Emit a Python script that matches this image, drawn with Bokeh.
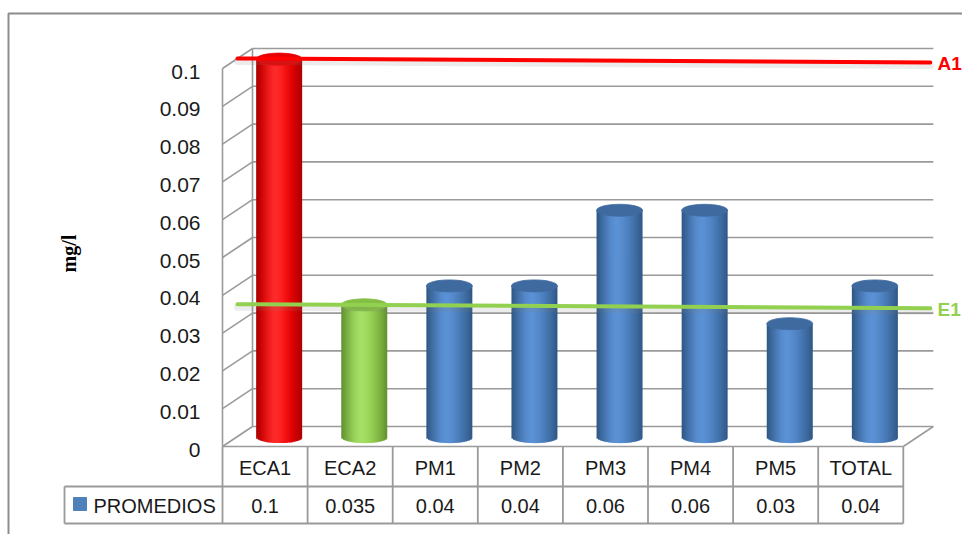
import numpy as np
from bokeh.plotting import figure
from bokeh.models import Range1d
from bokeh.core.properties import value
from bokeh.embed import file_html
from bokeh.resources import INLINE

# ---- data -------------------------------------------------------------
categories = ["ECA1", "ECA2", "PM1", "PM2", "PM3", "PM4", "PM5", "TOTAL"]
promedios = [0.1, 0.035, 0.04, 0.04, 0.06, 0.06, 0.03, 0.04]
value_labels = ["0.1", "0.035", "0.04", "0.04", "0.06", "0.06", "0.03", "0.04"]
series_name = "PROMEDIOS"
y_ticks = [0.0, 0.01, 0.02, 0.03, 0.04, 0.05, 0.06, 0.07, 0.08, 0.09, 0.1]
y_tick_labels = ["0", "0.01", "0.02", "0.03", "0.04", "0.05", "0.06",
                 "0.07", "0.08", "0.09", "0.1"]
y_title = "mg/l"
ref_names = ["A1", "E1"]
ref_values = [0.1, 0.035]
ref_colors = ["#ff0000", "#92d050"]

# ---- styling ----------------------------------------------------------
W, H = 962, 534
COL_PX = 85.1          # pixels per category column
UNIT_PX = 3780.0       # pixels per 1.0 mg/l
X0_PX, Y0_PX = 222, 446
DX = 30 / COL_PX       # depth offset of the back wall (x)
DY = 20 / UNIT_PX      # depth offset of the back wall (y)
GRID = "#9a9a9a"
TEXT = "#1a1a1a"
FONT = value("Liberation Sans")

# cylinder palettes: (edge, mid, highlight, top)
PAL = {
    "red":   ("#a80000", "#f20000", "#ff2a2a", "#e60000"),
    "green": ("#5f8f30", "#8fcb4c", "#a6e066", "#84bf45"),
    "blue":  ("#2f5684", "#4a7dba", "#5b92d6", "#3f6a9f"),
}
bar_palette = ["red", "green"] + ["blue"] * 6


def px_x(px):
    return (px - X0_PX) / COL_PX


def px_y(py):
    return (Y0_PX - py) / UNIT_PX


p = figure(width=W, height=H, output_backend="svg", toolbar_location=None,
           x_range=Range1d(px_x(0), px_x(W)), y_range=Range1d(px_y(H), px_y(0)),
           x_axis_location=None, y_axis_location=None, min_border=0,
           background_fill_color="white", border_fill_color="white")
p.outline_line_color = None
p.grid.visible = False

n = len(categories)

# outer chart border
p.line([px_x(8), px_x(8), px_x(W + 20)], [px_y(H + 20), px_y(13), px_y(13)],
       line_color="#8c8c8c", line_width=2)

# back wall grid lines, side wall diagonals
gx, gy = [], []
for t in y_ticks:
    gx.append([DX, n + DX]); gy.append([t + DY, t + DY])
    gx.append([0, DX]); gy.append([t, t + DY])
gx.append([0, 0]); gy.append([0, y_ticks[-1]])
gx.append([DX, DX]); gy.append([DY, y_ticks[-1] + DY])
gx.append([0, n]); gy.append([0, 0])
gx.append([n, n + DX]); gy.append([0, DY])
p.multi_line(gx, gy, line_color=GRID, line_width=1.6)

# y tick labels
p.text(x=[px_x(200)] * len(y_ticks), y=y_ticks, text=y_tick_labels,
       text_align="right", text_baseline="middle", text_font=FONT,
       text_font_size="21px", text_color=TEXT, y_offset=3)

# axis title
p.text(x=[px_x(68)], y=[px_y(253)], text=[y_title], angle=np.pi / 2,
       text_align="center", text_baseline="middle",
       text_font=value("Liberation Serif"), text_font_style="bold",
       text_font_size="20px", text_color="#000000")


# ---- cylinders --------------------------------------------------------
def hex2rgb(h):
    h = h.lstrip("#")
    return np.array([int(h[i:i + 2], 16) for i in (0, 2, 4)], float)


def rgb2hex(c):
    c = np.clip(np.round(c), 0, 255).astype(int)
    return "#%02x%02x%02x" % tuple(c)


R = 23 / COL_PX        # cylinder radius (x)
HY = 6 / UNIT_PX       # half height of end ellipses
DEPTH = 0.47           # cylinder position inside the depth
NS = 28
edges = np.linspace(-1, 1, NS + 1)
overlap = 0.6 * (edges[1] - edges[0])

ql, qr, qb, qt, qc = [], [], [], [], []
ex, ey, ec = [], [], []
for i, v in enumerate(promedios):
    pal = PAL[bar_palette[i]]
    edge, mid, hi = hex2rgb(pal[0]), hex2rgb(pal[1]), hex2rgb(pal[2])
    top = pal[3]
    xc = i + 0.5 + DX * DEPTH
    yb = DY * DEPTH
    yt = v + DY * DEPTH
    for k in range(NS):
        u0, u1 = edges[k], edges[k + 1]
        uc = 0.5 * (u0 + u1)
        # light falls from the upper left: highlight left of centre
        s = np.exp(-((uc + 0.2) / 0.55) ** 2)
        d = abs(uc) ** 2.2
        col = mid + (hi - mid) * s
        col = col + (edge - col) * d
        ql.append(xc + R * u0)
        qr.append(xc + R * min(1.0, u1 + overlap))
        qb.append(yb - HY * np.sqrt(max(0.0, 1 - uc ** 2)))
        qt.append(yt)
        qc.append(rgb2hex(col))
    ex.append(xc); ey.append(yt); ec.append(top)

p.quad(left=ql, right=qr, bottom=qb, top=qt, fill_color=qc, line_color=None)
p.ellipse(x=ex, y=ey, width=2 * R, height=2 * HY, fill_color=ec,
          line_color=ec, line_width=0.8)

# ---- reference lines --------------------------------------------------
for name, v, c in zip(ref_names, ref_values, ref_colors):
    xs = [DX * 0.5, n + DX * 0.9]
    ys = [v + DY * 0.5, v + DY * 0.3]
    p.line(xs, [y - 3 / UNIT_PX for y in ys], line_color="#808080",
           line_alpha=0.15, line_width=7, line_cap="round")
    p.line(xs, ys, line_color=c, line_width=4, line_cap="round")
    p.text(x=[px_x(937)], y=[v + DY * 0.25], text=[name], text_align="left",
           text_baseline="middle", text_font=FONT, text_font_style="bold",
           text_font_size="19px", text_color=c)

# ---- data table -------------------------------------------------------
row1_y = px_y(486)
row2_y = px_y(523)
leg_x = px_x(64)
tx = [[i, i] for i in range(n + 1)]
ty = [[0, row2_y] for _ in range(n + 1)]
tx += [[leg_x, n], [leg_x, n], [leg_x, leg_x]]
ty += [[row1_y, row1_y], [row2_y, row2_y], [row1_y, row2_y]]
p.multi_line(tx, ty, line_color=GRID, line_width=1.8)

cx = [i + 0.5 for i in range(n)]
p.text(x=cx, y=[px_y(467)] * n, text=categories, text_align="center",
       text_baseline="middle", text_font=FONT, text_font_size="20px",
       text_color=TEXT)
p.text(x=cx, y=[px_y(505)] * n, text=value_labels, text_align="center",
       text_baseline="middle", text_font=FONT, text_font_size="20px",
       text_color=TEXT)

# legend key
p.quad(left=[px_x(73)], right=[px_x(86)], bottom=[px_y(510)], top=[px_y(497)],
       fill_color="#4f81bd", line_color="#4f81bd")
p.text(x=[px_x(93)], y=[px_y(505)], text=[series_name], text_align="left",
       text_baseline="middle", text_font=FONT, text_font_size="20px",
       text_color=TEXT)

open("out.html", "w").write(file_html(p, INLINE))
